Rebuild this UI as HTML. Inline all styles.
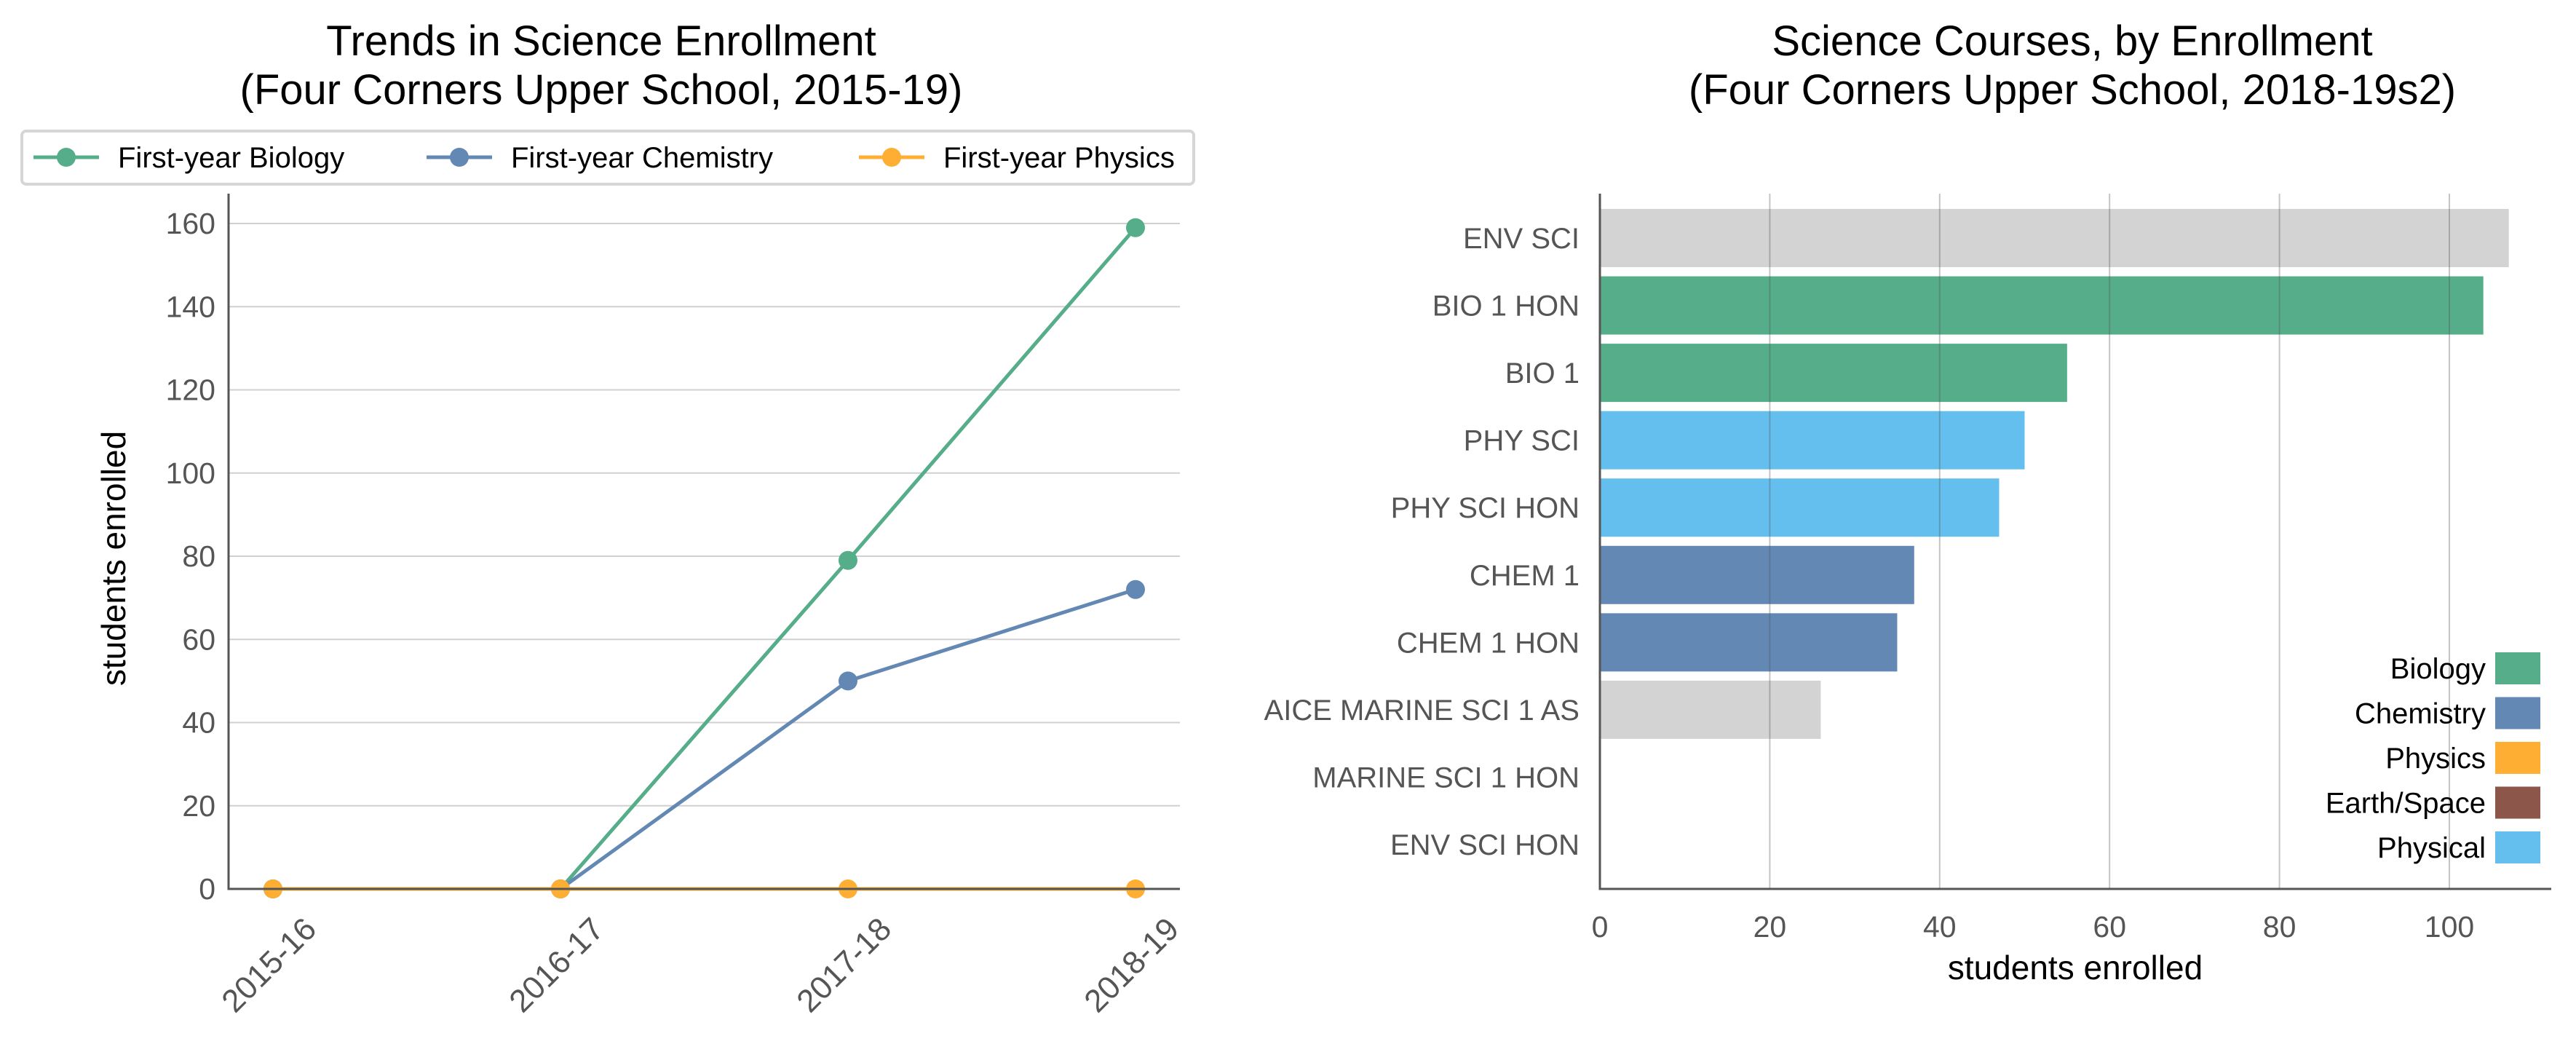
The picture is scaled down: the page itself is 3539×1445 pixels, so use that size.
<!DOCTYPE html>
<html><head><meta charset="utf-8"><style>
html,body{margin:0;padding:0;background:#fff}
svg{display:block;font-family:"Liberation Sans","DejaVu Sans",sans-serif}
</style></head><body>
<svg id="chart" width="3539" height="1445" viewBox="0 0 3539 1445" xmlns="http://www.w3.org/2000/svg">
<text x="826" y="76" font-size="58" text-anchor="middle" fill="#000">Trends in Science Enrollment</text>
<text x="826" y="143" font-size="58" text-anchor="middle" fill="#000">(Four Corners Upper School, 2015-19)</text>
<text x="2847" y="76" font-size="58" text-anchor="middle" fill="#000">Science Courses, by Enrollment</text>
<text x="2847" y="143" font-size="58" text-anchor="middle" fill="#000">(Four Corners Upper School, 2018-19s2)</text>
<g id="left"></g>
<g id="right"></g>
</svg>
<script>
const years = ["2015-16","2016-17","2017-18","2018-19"];
const bioVals = [0,0,79,159];
const chemVals = [0,0,50,72];
const physVals = [0,0,0,0];
const leftTicks = [0,20,40,60,80,100,120,140,160];

const courses = ["ENV SCI","BIO 1 HON","BIO 1","PHY SCI","PHY SCI HON","CHEM 1","CHEM 1 HON","AICE MARINE SCI 1 AS","MARINE SCI 1 HON","ENV SCI HON"];
const courseVals = [107,104,55,50,47,37,35,26,0,0];
const courseCats = ["none","bio","bio","physical","physical","chem","chem","none","none","none"];
const rightTicks = [0,20,40,60,80,100];
const legendCats = ["Biology","Chemistry","Physics","Earth/Space","Physical"];

const NS="http://www.w3.org/2000/svg";
function mk(tag, attrs, parent, text){
  const e=document.createElementNS(NS,tag);
  for(const k in attrs) e.setAttribute(k,attrs[k]);
  if(text!==undefined) e.textContent=text;
  parent.appendChild(e); return e;
}
const colors={bio:"#55ad89",chem:"#6388b4",phys:"#ffae34",earth:"#8c564b",physical:"#64bfef",none:"#d3d3d3"};

// LEFT
const L=document.getElementById('left');
const lx0=314,lx1=1621,ly0=1221,ly160=307;
const ly=v=>ly0-(v/160)*(ly0-ly160);
const lxPos=i=>375+i*(1560-375)/(years.length-1);
leftTicks.forEach(t=>{
  if(t>0){const g=mk('line',{x1:lx0,x2:lx1,y1:ly(t),y2:ly(t),stroke:"#d0d0d0","stroke-width":2},L);
  }
  const tx=mk('text',{x:lx0-18,y:ly(t)+14,"font-size":41,"text-anchor":"end",fill:"#555"},L,String(t));
  
});
years.forEach((y,i)=>{
  const x=lxPos(i)+62, yy=ly0+58;
  const tx=mk('text',{x:x,y:yy,"font-size":44,"text-anchor":"end",fill:"#555",transform:`rotate(-45 ${x} ${yy})`},L,y);
  
});
const series=[["bio",bioVals],["chem",chemVals],["phys",physVals]];
series.forEach(([c,vals])=>{
  const pts=vals.map((v,i)=>lxPos(i)+","+ly(v)).join(" ");
  const pl=mk('polyline',{points:pts,fill:"none",stroke:colors[c],"stroke-width":5},L);
  
  vals.forEach((v,i)=>{
    const p=mk('circle',{cx:lxPos(i),cy:ly(v),r:13,fill:colors[c]},L);
    
  });
});
const ax1=mk('path',{d:`M${lx0} 266 V${ly0} H${lx1}`,fill:"none",stroke:"#555","stroke-width":3},L);

const yl=mk('text',{x:172,y:767,"font-size":46,"text-anchor":"middle",fill:"#000",transform:"rotate(-90 172 767)"},L,"students enrolled");

// legend
const lb=mk('rect',{x:30,y:180,width:1610,height:73,rx:6,fill:"#fff",stroke:"#d6d6d6","stroke-width":4},L);

const legItems=[["bio","First-year Biology",46],["chem","First-year Chemistry",586],["phys","First-year Physics",1180]];
legItems.forEach(([c,label,x])=>{
  const g=mk('g',{},L);
  
  mk('line',{x1:x,x2:x+90,y1:216,y2:216,stroke:colors[c],"stroke-width":5},g);
  mk('circle',{cx:x+45,cy:216,r:13,fill:colors[c]},g);
  mk('text',{x:x+116,y:230,"font-size":40,fill:"#000"},g,label);
});

// RIGHT
const R=document.getElementById('right');
const rx0=2198,rx1=3505,rTop=266,rBot=1221;
const rx=v=>rx0+v*(3365-rx0)/100;
const rowY=i=>327+i*(1160-327)/(courses.length-1);
courses.forEach((c,i)=>{
  const b=mk('rect',{x:rx(0),y:rowY(i)-40,width:rx(courseVals[i])-rx(0),height:80,fill:colors[courseCats[i]]},R);
  
  const t=mk('text',{x:rx0-28,y:rowY(i)+14,"font-size":40,"text-anchor":"end",fill:"#555"},R,c);
  
});
rightTicks.forEach(t=>{
  if(t>0){const g=mk('line',{x1:rx(t),x2:rx(t),y1:rTop,y2:rBot,stroke:"#555","stroke-opacity":0.35,"stroke-width":2},R);
  }
  const tx=mk('text',{x:rx(t),y:1287,"font-size":41,"text-anchor":"middle",fill:"#555"},R,String(t));
  
});
const ax2=mk('path',{d:`M${rx0} ${rTop} V${rBot} H${rx1}`,fill:"none",stroke:"#555","stroke-width":3},R);

const xl=mk('text',{x:2851,y:1345,"font-size":46,"text-anchor":"middle",fill:"#000"},R,"students enrolled");

const legColors=[colors.bio,colors.chem,colors.phys,colors.earth,colors.physical];
legendCats.forEach((c,i)=>{
  const y=918+i*61.5;
  const g=mk('g',{},R);
  
  mk('rect',{x:3428,y:y-22,width:62,height:44,fill:legColors[i]},g);
  mk('text',{x:3415,y:y+14,"font-size":40,"text-anchor":"end",fill:"#000"},g,c);
});
</script>
</body></html>
